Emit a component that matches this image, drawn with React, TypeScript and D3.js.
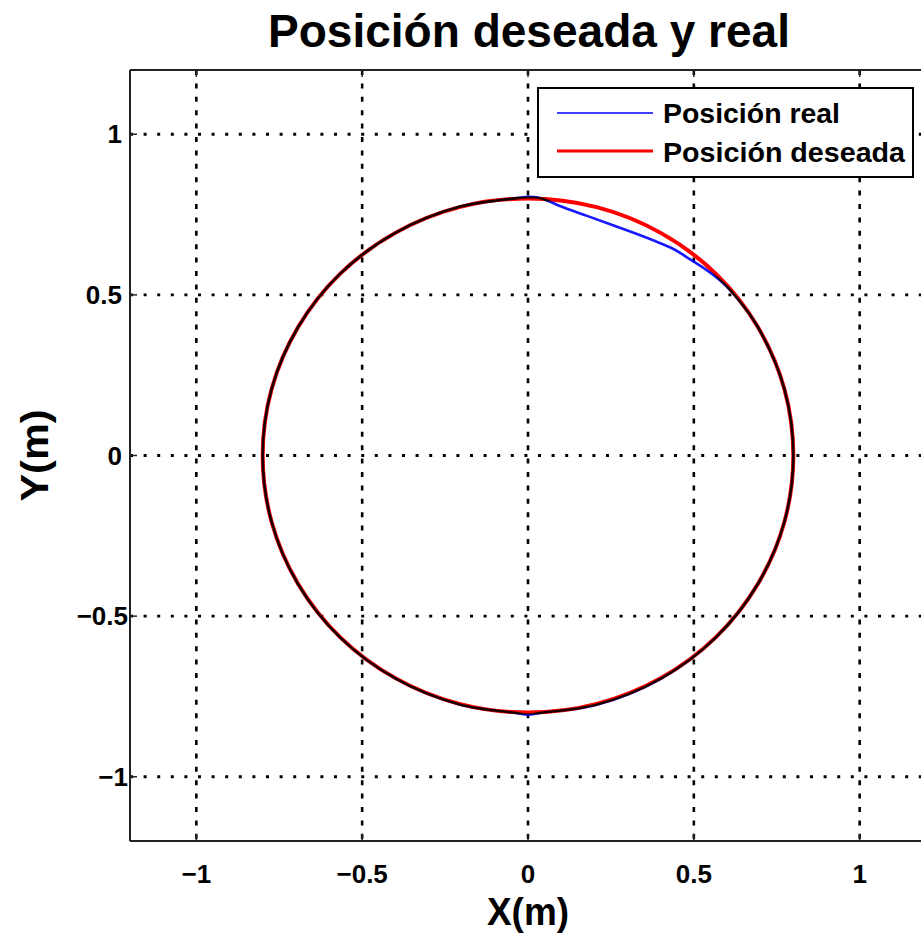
import React from "react";
import * as d3 from "d3";

// Desired trajectory: circle of radius 0.8 m, sampled every 15 degrees
const desiredX = [0.8, 0.773, 0.693, 0.566, 0.4, 0.207, 0, -0.207, -0.4, -0.566, -0.693, -0.773, -0.8, -0.773, -0.693, -0.566, -0.4, -0.207, 0, 0.207, 0.4, 0.566, 0.693, 0.773];
const desiredY = [0, 0.207, 0.4, 0.566, 0.693, 0.773, 0.8, 0.773, 0.693, 0.566, 0.4, 0.207, 0, -0.207, -0.4, -0.566, -0.693, -0.773, -0.8, -0.773, -0.693, -0.566, -0.4, -0.207];

// Measured trajectory (starts at the top, runs clockwise)
const realX = [0.0, 0.03, 0.057, 0.1, 0.178, 0.277, 0.377, 0.44, 0.479, 0.539, 0.578, 0.617, 0.693, 0.773, 0.8, 0.773, 0.693, 0.566, 0.4, 0.207, 0.04, 0.0, -0.04, -0.207, -0.4, -0.566, -0.693, -0.773, -0.8, -0.773, -0.693, -0.566, -0.4, -0.207, -0.06, 0.0];
const realY = [0.805, 0.803, 0.794, 0.775, 0.746, 0.709, 0.67, 0.642, 0.617, 0.577, 0.546, 0.506, 0.4, 0.207, 0.0, -0.207, -0.4, -0.567, -0.695, -0.776, -0.801, -0.807, -0.801, -0.775, -0.694, -0.567, -0.401, -0.207, 0.0, 0.207, 0.4, 0.566, 0.693, 0.774, 0.798, 0.805];

const xTicks = [-1, -0.5, 0, 0.5, 1];
const yTicks = [-1, -0.5, 0, 0.5, 1];

const W = 921;
const H = 940;
const L = 130;
const R = 926;
const T = 70;
const B = 841;

const FONT = "'Liberation Sans', Arial, Helvetica, sans-serif";

const fmt = (v: number) => (v < 0 ? "\u2212" + String(-v) : String(v));

export default function App() {
  const x = d3.scaleLinear().domain([-1.2, 1.2]).range([L, R]);
  const y = d3.scaleLinear().domain([-1.2, 1.2]).range([B, T]);

  const desired = desiredX.map((v, i) => [v, desiredY[i]] as [number, number]);
  const real = realX.map((v, i) => [v, realY[i]] as [number, number]);

  const closedLine = d3
    .line<[number, number]>()
    .x((d) => x(d[0]))
    .y((d) => y(d[1]))
    .curve(d3.curveCatmullRomClosed);
  const openLine = d3
    .line<[number, number]>()
    .x((d) => x(d[0]))
    .y((d) => y(d[1]))
    .curve(d3.curveCatmullRom);

  return (
    <svg
      width={W}
      height={H}
      style={{ position: "absolute", left: 0, top: 0, background: "#fff" }}
      fontFamily={FONT}
    >
      <defs>
        <clipPath id="plotArea">
          <rect x={L} y={T} width={R - L} height={B - T} />
        </clipPath>
      </defs>
      <rect x={0} y={0} width={W} height={H} fill="#fff" />

      {/* grid */}
      <g clipPath="url(#plotArea)" stroke="#000">
        {xTicks.map((t) => (
          <line
            key={"gx" + t}
            x1={x(t)}
            x2={x(t)}
            y1={T}
            y2={B}
            strokeWidth={2.6}
            strokeDasharray="5 8.4"
          />
        ))}
        {yTicks.map((t) => (
          <line
            key={"gy" + t}
            x1={L}
            x2={R}
            y1={y(t)}
            y2={y(t)}
            strokeWidth={2.8}
            strokeDasharray="3 10.6"
          />
        ))}
      </g>

      {/* trajectories */}
      <g clipPath="url(#plotArea)" fill="none" strokeLinejoin="round">
        <path d={closedLine(desired) ?? ""} stroke="#ff0000" strokeWidth={4} />
        <path
          d={openLine(real) ?? ""}
          stroke="#0000ff"
          strokeWidth={2.6}
          strokeOpacity={0.9}
          style={{ mixBlendMode: "multiply" }}
        />
      </g>

      {/* axes */}
      <g stroke="#222" strokeWidth={2} fill="none">
        <line x1={L} x2={W} y1={T} y2={T} />
        <line x1={L} x2={W} y1={B} y2={B} />
        <line x1={L} x2={L} y1={T} y2={B} />
        {xTicks.map((t) => (
          <g key={"tx" + t}>
            <line x1={x(t)} x2={x(t)} y1={B} y2={B - 7} strokeWidth={1.5} />
            <line x1={x(t)} x2={x(t)} y1={T} y2={T + 7} strokeWidth={1.5} />
          </g>
        ))}
        {yTicks.map((t) => (
          <line key={"ty" + t} x1={L} x2={L + 7} y1={y(t)} y2={y(t)} strokeWidth={1.5} />
        ))}
      </g>

      {/* tick labels */}
      <g fontSize={26} fontWeight="bold" fill="#000">
        {xTicks.map((t) => (
          <text key={"lx" + t} x={x(t)} y={883} textAnchor="middle">
            {fmt(t)}
          </text>
        ))}
        {yTicks.map((t) => (
          <text
            key={"ly" + t}
            x={t < 0 ? 128 : 122}
            y={y(t) + 9}
            textAnchor="end"
          >
            {fmt(t)}
          </text>
        ))}
      </g>

      {/* axis titles */}
      <text
        x={x(0)}
        y={925}
        textAnchor="middle"
        fontSize={38}
        fontWeight="bold"
        textLength={82}
        lengthAdjust="spacingAndGlyphs"
      >
        X(m)
      </text>
      <text
        transform={`translate(48, ${y(0)}) rotate(-90)`}
        textAnchor="middle"
        fontSize={38}
        fontWeight="bold"
        textLength={92}
        lengthAdjust="spacingAndGlyphs"
      >
        Y(m)
      </text>

      {/* title */}
      <text
        x={529}
        y={47}
        textAnchor="middle"
        fontSize={46}
        fontWeight="bold"
        textLength={522}
        lengthAdjust="spacingAndGlyphs"
      >
        Posición deseada y real
      </text>

      {/* legend */}
      <g>
        <rect x={538} y={88} width={375} height={89} fill="#fff" stroke="#000" strokeWidth={2} />
        <line x1={557} x2={653} y1={113} y2={113} stroke="#0000ff" strokeWidth={1.5} />
        <line x1={557} x2={653} y1={151} y2={151} stroke="#ff0000" strokeWidth={3} />
        <text
          x={663}
          y={123}
          fontSize={28}
          fontWeight="bold"
          textLength={177}
          lengthAdjust="spacingAndGlyphs"
        >
          Posición real
        </text>
        <text
          x={663}
          y={162}
          fontSize={28}
          fontWeight="bold"
          textLength={242}
          lengthAdjust="spacingAndGlyphs"
        >
          Posición deseada
        </text>
      </g>
    </svg>
  );
}
